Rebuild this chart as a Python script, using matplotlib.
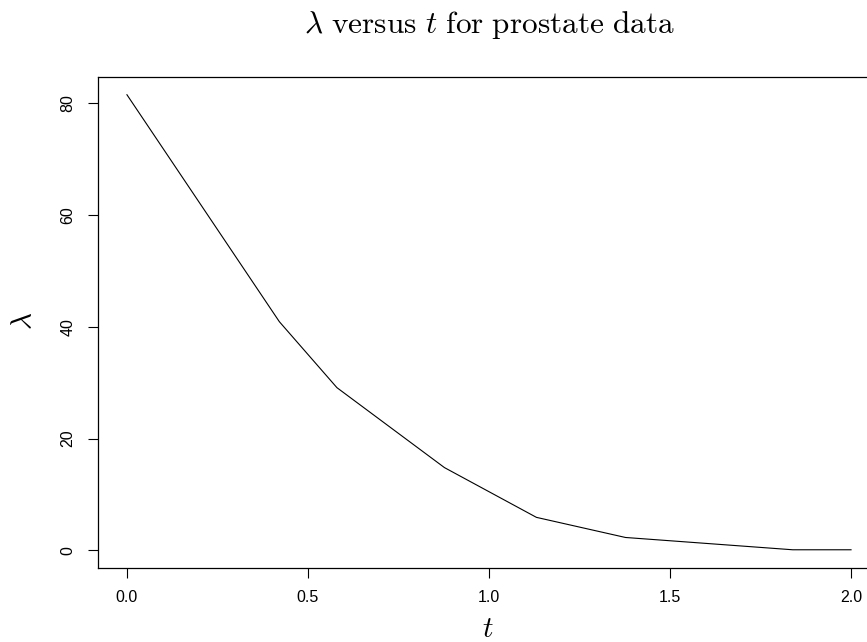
import numpy as np
import matplotlib
matplotlib.use("Agg")
import matplotlib.pyplot as plt

plt.rcParams['mathtext.fontset'] = 'cm'
plt.rcParams['font.family'] = ['Liberation Sans', 'DejaVu Sans']

# lambda path against t
t_vals = [0.0, 0.421, 0.580, 0.877, 1.131, 1.377, 1.839, 2.0]
lam_vals = [81.5, 40.9, 29.1, 14.8, 5.9, 2.3, 0.1, 0.1]

xticks = [0.0, 0.5, 1.0, 1.5, 2.0]
yticks = [0, 20, 40, 60, 80]

fig = plt.figure(figsize=(8.67, 6.42), dpi=100)
ax = fig.add_axes([0.113, 0.1153, 0.902, 0.7655])

ax.plot(t_vals, lam_vals, color="black", lw=0.8)

# R style 4% padding
xr = max(t_vals) - min(t_vals)
yr = max(lam_vals) - min(lam_vals)
ax.set_xlim(min(t_vals) - 0.04 * xr, max(t_vals) + 0.04 * xr)
ax.set_ylim(min(lam_vals) - 0.04 * yr, max(lam_vals) + 0.04 * yr)

ax.set_xticks(xticks)
ax.set_xticklabels(["%.1f" % v for v in xticks])
ax.set_yticks(yticks)
ax.set_yticklabels([str(v) for v in yticks], rotation=90, va="center")
ax.tick_params(direction="out", length=7, width=0.8, labelsize=11.5, pad=9)

for s in ax.spines.values():
    s.set_linewidth(0.9)

fig.text(0.565, 1 - 33 / 642, r"$\lambda\ \mathrm{versus}\ t\ \mathrm{for\ prostate\ data}$",
         ha="center", va="baseline", fontsize=22.5)
fig.text(488 / 867, 1 - 629 / 642, r"$t$", ha="center", va="center", fontsize=21)
fig.text(24 / 867, 1 - 321 / 642, r"$\lambda$", ha="center", va="center",
         fontsize=21, rotation=90)

fig.savefig("out.png", dpi=100)
